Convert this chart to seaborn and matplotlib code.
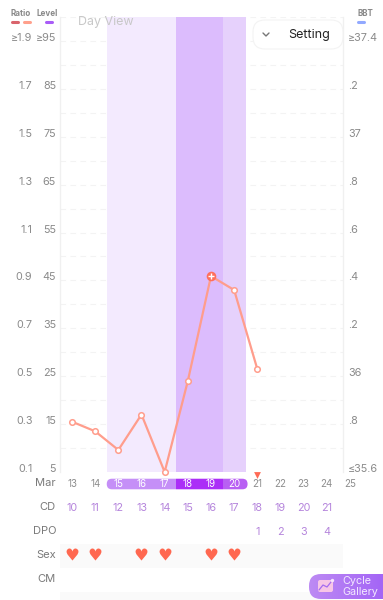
import numpy as np
import seaborn as sns
import pandas as pd
import matplotlib.pyplot as plt
from matplotlib.patches import FancyBboxPatch, Rectangle

# values
days = [13, 14, 15, 16, 17, 18, 19, 20, 21]
levels = [15.5, 13.5, 9.6, 17, 5, 24, 45.9, 43, 26.5]
peak_day = 19
peak_level = 45.9

level_ticks = [5, 15, 25, 35, 45, 55, 65, 75, 85, 95]
level_labels = ['5', '15', '25', '35', '45', '55', '65', '75', '85', '≥95']
ratio_labels = ['0.1', '0.3', '0.5', '0.7', '0.9', '1.1', '1.3', '1.5', '1.7', '≥1.9']
bbt_labels = ['≤35.6', '.8', '36', '.2', '.4', '.6', '.8', '37', '.2', '≥37.4']

date_days = [13, 14, 15, 16, 17, 18, 19, 20, 21, 22, 23, 24, 25]
cd_days = [13, 14, 15, 16, 17, 18, 19, 20, 21, 22, 23, 24]
cd_values = [10, 11, 12, 13, 14, 15, 16, 17, 18, 19, 20, 21]
dpo_days = [21, 22, 23, 24]
dpo_values = [1, 2, 3, 4]
sex_days = [13, 14, 16, 17, 19, 20]
row_names = ['Mar', 'CD', 'DPO', 'Sex', 'CM']

W, H = 383, 600
sns.set_theme(style='white')
plt.rcParams['font.family'] = ['Inter', 'DejaVu Sans']

fig = plt.figure(figsize=(3.83, 6.0), dpi=100)


def px_axes(l, t, r, b):
    return fig.add_axes([l / W, 1 - b / H, (r - l) / W, (b - t) / H])


XMIN, XMAX = 12.46, 24.7

# main chart
ax = px_axes(59.5, 17, 343, 472)
ax.set_xlim(XMIN, XMAX)
ax.set_ylim(5, 100)
ax.set_xticks([])
ax.set_yticks([])
for s in ['top', 'bottom']:
    ax.spines[s].set_visible(False)
for s in ['left', 'right']:
    ax.spines[s].set_color('#f0f0f0')
    ax.spines[s].set_linewidth(1)

for g in range(10, 101, 5):
    ax.axhline(g, color='#f3f3f3', lw=0.8, ls=(0, (5, 4)), zorder=0.5)

ax.axvspan(14.5, 17.5, color='#f3eafe', lw=0, zorder=1)
ax.axvspan(17.5, 19.5, color='#dcbcfd', lw=0, zorder=1)
ax.axvspan(19.5, 20.5, color='#e6d1fc', lw=0, zorder=1)

df = pd.DataFrame({'day': days, 'level': levels})
sns.lineplot(data=df, x='day', y='level', ax=ax, color='#ff9d8c', lw=1.6, zorder=3,
             marker='o', markersize=4, markerfacecolor='white',
             markeredgecolor='#ff9d8c', markeredgewidth=1.1, clip_on=False)
ax.set_xlabel('')
ax.set_ylabel('')
ax.scatter([peak_day], [peak_level], s=48, color='#ff6f5b', zorder=4, clip_on=False, lw=0)
ax.scatter([peak_day], [peak_level], s=18, marker='+', color='white', lw=1, zorder=5)

grey = '#8a8a8a'
ytrans = ax.get_yaxis_transform()
for lv, lb, rb, bb in zip(level_ticks, level_labels, ratio_labels, bbt_labels):
    ax.annotate(lb, xy=(0, lv), xycoords=ytrans, xytext=(-3.5, 3), textcoords='offset pixels',
                ha='right', va='center', fontsize=7.8, color=grey)
    ax.annotate(rb, xy=(0, lv), xycoords=ytrans, xytext=(-27, 3), textcoords='offset pixels',
                ha='right', va='center', fontsize=7.8, color=grey)
    ax.annotate(bb, xy=(1, lv), xycoords=ytrans, xytext=(5, 3), textcoords='offset pixels',
                ha='left', va='center', fontsize=7.8, color=grey)

# rows under the chart
rows = px_axes(59.5, 472, 343, 600)
rows.set_xlim(XMIN, XMAX)
rows.set_ylim(4.83, -0.5)
rows.axis('off')
rows.axhspan(2.5, 3.5, color='#fafafa', lw=0)
rows.axhspan(4.5, 4.83, color='#fafafa', lw=0)

pill = FancyBboxPatch((14.5, -0.22), 6.08, 0.44, boxstyle='round,pad=0,rounding_size=0.22',
                      mutation_aspect=1, lw=0, facecolor='none', transform=rows.transData)
rows.add_patch(pill)
for left, width, col in [(14.4, 3.1, '#c58ff7'), (17.5, 2, '#ab2ef7'), (19.5, 1.2, '#b860f3')]:
    seg = Rectangle((left, -0.24), width, 0.48, color=col, lw=0, zorder=2)
    rows.add_patch(seg)
    seg.set_clip_path(pill)

for d in date_days:
    col = 'white' if 15 <= d <= 20 else '#8e8e8e'
    rows.text(d, 0.02, str(d), ha='center', va='center', fontsize=7, color=col, zorder=3, clip_on=False)
for d, v in zip(cd_days, cd_values):
    rows.text(d, 1, str(v), ha='center', va='center', fontsize=7.8, color='#b585dc')
for d, v in zip(dpo_days, dpo_values):
    rows.text(d, 2, str(v), ha='center', va='center', fontsize=7.8, color='#b585dc')

rows.scatter([21], [-0.37], marker='v', s=24, color='#ff6a55', lw=0, zorder=3, clip_on=False)
rows.scatter(sex_days, [2.93] * len(sex_days), marker='$\u2665$', s=75, color='#ff6850', lw=0, zorder=3)

rtrans = rows.get_yaxis_transform()
for i, name in enumerate(row_names):
    rows.annotate(name, xy=(0, i), xycoords=rtrans, xytext=(-3.5, 1), textcoords='offset pixels',
                  ha='right', va='center', fontsize=8, color='#7a7a7a', annotation_clip=False)

# app chrome drawn on top in pixel coordinates
top = fig.add_axes([0, 0, 1, 1], facecolor='none')
top.set_xlim(0, W)
top.set_ylim(H, 0)
top.axis('off')

top.text(20.5, 13.5, 'Ratio', ha='center', va='center', fontsize=5.8, fontweight='bold', color='#8a8a8a')
top.text(47, 13.5, 'Level', ha='center', va='center', fontsize=5.8, fontweight='bold', color='#8a8a8a')
top.text(365, 13.5, 'BBT', ha='center', va='center', fontsize=5.8, fontweight='bold', color='#8a8a8a')
for x0, x1, col in [(11, 19, '#d9646c'), (23, 31, '#ffa08c'), (45, 53, '#a95cf7'), (357, 365, '#92a9ff')]:
    top.plot([x0 + 1, x1 - 1], [22, 22], color=col, lw=2.2, solid_capstyle='round')

top.text(78, 22, 'Day View', ha='left', va='center', fontsize=9, color='#c8c8c8')
top.add_patch(FancyBboxPatch((253, 20), 90, 29, boxstyle='round,pad=0,rounding_size=12',
                             facecolor='white', edgecolor='#f3f3f3', lw=0.8, zorder=3))
top.plot([263, 266, 269], [33, 36, 33], color='#777777', lw=1, zorder=4)
top.text(309, 35, 'Setting', ha='center', va='center', fontsize=9, color='#222222', zorder=4)

# cycle gallery button
grad = np.linspace(0, 1, 80).reshape(1, -1)
cm = sns.blend_palette(['#bd8bf3', '#a465f6'], as_cmap=True)
img = top.imshow(grad, extent=(308, 383, 600, 573), cmap=cm, aspect='auto', zorder=5)
btn = FancyBboxPatch((309, 574), 90, 25, boxstyle='round,pad=0,rounding_size=12',
                     facecolor='none', edgecolor='none', transform=top.transData)
top.add_patch(btn)
img.set_clip_path(btn)
top.set_xlim(0, W)
top.set_ylim(H, 0)
top.add_patch(FancyBboxPatch((318, 580), 15, 12, boxstyle='round,pad=0,rounding_size=2',
                             facecolor='#f7c6e6', edgecolor='none', zorder=6))
top.plot([319, 323, 327, 331], [590, 585, 587, 582], color='#a56cf0', lw=0.9, zorder=7)
top.scatter([332], [580], s=6, color='#f5e3ff', lw=0, zorder=7)
top.text(342, 581, 'Cycle', ha='left', va='center', fontsize=7.8, color='#f3e8ff', zorder=7)
top.text(342, 592, 'Gallery', ha='left', va='center', fontsize=7.8, color='#f3e8ff', zorder=7)

fig.savefig('out.png', dpi=100)
